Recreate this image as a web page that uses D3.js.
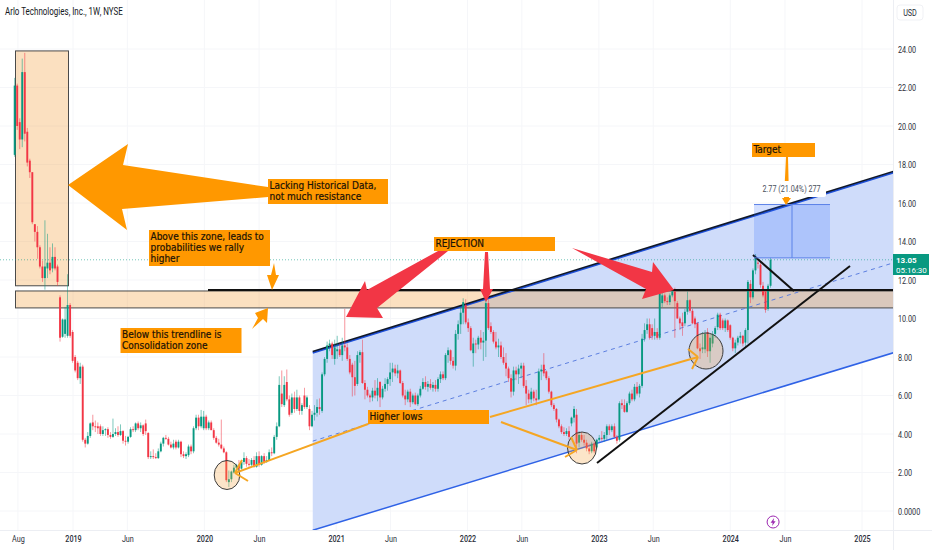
<!DOCTYPE html>
<html>
<head>
<meta charset="utf-8">
<script src="https://cdn.jsdelivr.net/npm/d3@7"></script>
<style>
  html, body { margin: 0; padding: 0; background: #fff; }
  svg { display: block; }
  .axis-text { font-family: "Roboto", sans-serif; font-size: 9.5px; fill: #2a2e39; }
  .tag-text { font-family: "Roboto", sans-serif; font-size: 8px; fill: #fff; }
  .note { font-family: "DejaVu Sans Condensed", "DejaVu Sans", sans-serif; font-size: 10px; fill: #1a1206; stroke: #1a1206; stroke-width: 0.2px; }
</style>
</head>
<body>
<svg id="chart" width="932" height="550"></svg>
<script>
/* weekly candles: open, high, low, close */
const candles2018 = [
  [18.5,22.5,18.4,22.1],[22.1,22.2,19.8,20.0],[20.2,20.4,18.8,19.3],[19.3,23.5,18.9,22.8],[22.8,23.8,19.2,19.6],
  [19.7,19.9,17.9,18.1],[18.2,18.3,17.3,17.6],[17.6,17.6,14.9,15.0],[14.9,14.9,14.0,14.5],[14.5,14.8,13.1,13.7],
  [13.7,13.8,12.6,12.7],[12.7,13.0,11.9,12.1],[12.1,15.1,11.5,12.7],[12.6,14.4,12.1,12.9],[12.9,13.7,12.3,12.5],
  [12.6,13.9,12.4,13.2],[13.2,13.7,12.5,12.6],[12.7,12.8,11.7,11.9],[11.1,11.2,8.8,9.0],[9.05,10.0,9.0,9.95],
  [9.2,10.6,9.0,9.95],[9.1,12.3,9.0,10.7],[10.7,10.8,9.0,9.1]
];
const candles2019 = [
  [9.3,9.4,7.7,7.8],[8.0,8.1,7.2,7.3],[7.7,7.8,6.8,6.9],[6.9,7.7,6.6,7.5],[7.5,7.6,3.6,3.7],
  [3.7,3.8,3.3,3.5],[3.5,4.1,3.45,3.9],[3.9,4.6,3.8,4.55],[4.6,5.0,4.2,4.4],[4.4,4.7,4.1,4.35],
  [4.4,4.6,4.0,4.3],[4.4,4.5,3.9,4.0],[4.0,4.4,3.9,4.2],[4.2,4.3,3.9,4.25],[4.25,4.35,3.8,3.95],
  [3.95,4.1,3.75,3.85],[3.85,4.8,3.8,4.0],[4.0,4.3,3.9,4.1],[4.1,4.4,3.85,3.95],[3.95,4.5,3.9,4.15],
  [4.15,4.2,3.5,3.65],[3.65,3.9,3.4,3.6],[3.6,3.9,3.5,3.85],[3.85,4.35,3.8,4.25],[4.25,4.4,4.1,4.2],
  [4.2,4.6,4.1,4.55],[4.55,4.65,4.2,4.3],[4.3,4.6,4.1,4.45],[4.45,4.5,3.9,4.0],[4.55,4.75,3.95,4.15],
  [4.05,4.1,2.7,2.8],[2.8,3.1,2.7,2.85],[2.85,3.2,2.7,2.8],[2.8,3.0,2.7,2.75],[2.75,3.25,2.7,3.1],
  [3.1,3.6,3.05,3.5],[3.5,3.85,3.35,3.8],[3.8,3.95,3.7,3.75],[3.75,3.85,3.4,3.45],[3.45,3.6,3.25,3.3],
  [3.3,3.7,3.2,3.5],[3.6,3.7,3.2,3.3],[3.3,3.7,3.25,3.6],[3.6,3.65,2.8,2.95],[2.95,3.1,2.75,2.85],
  [2.85,3.05,2.7,2.95],[2.9,3.45,2.8,3.35],[3.35,3.45,2.95,3.1],[3.1,4.4,3.0,4.3],[4.3,5.0,4.2,4.85],
  [4.85,5.0,4.2,4.4],[4.4,5.25,4.3,4.9]
];
const candles2020 = [
  [4.3,5.2,4.2,4.9],[4.9,5.0,4.2,4.3],[4.3,4.7,4.2,4.6],[4.6,4.7,4.2,4.2],[4.2,4.3,3.7,3.8],
  [3.8,3.9,3.5,3.55],[3.55,3.75,3.35,3.45],[3.45,4.75,3.2,3.25],[3.25,3.35,3.0,3.05],[3.05,3.1,1.5,1.6],
  [1.5,2.1,1.25,1.65],[1.65,2.1,1.5,2.05],[2.0,2.4,1.95,2.25],[2.25,2.45,2.1,2.4],[2.4,2.65,2.1,2.2],
  [2.2,2.65,2.15,2.55],[2.55,3.05,2.4,2.75],[2.75,2.85,2.3,2.45],[2.45,2.7,2.3,2.4],[2.4,2.75,2.3,2.65],
  [2.65,2.85,2.25,2.3],[2.3,3.05,2.25,2.85],[2.85,3.1,2.3,2.4],[2.4,2.9,2.35,2.85],[2.85,3.0,2.45,2.55],
  [2.55,2.85,2.5,2.65],[2.65,3.2,2.6,3.05],[3.05,3.3,2.85,3.0],[3.0,3.95,2.95,3.85],[3.85,4.6,3.7,4.4],
  [4.4,7.0,4.35,6.55],[6.1,7.3,5.4,5.55],[5.5,7.0,5.4,6.55],[6.7,7.35,5.7,5.8],[5.8,6.0,4.9,5.0],
  [5.1,6.1,5.0,5.9],[5.9,6.2,5.1,5.3],[5.3,6.3,5.2,5.9],[5.9,6.0,5.0,5.2],[5.2,5.6,5.0,5.5],
  [6.0,6.4,5.3,5.4],[5.4,6.0,5.3,5.9],[5.3,5.5,4.2,4.4],[4.4,5.2,4.35,5.0],[5.0,5.5,4.7,5.1],
  [5.1,5.8,4.9,5.4],[5.4,5.85,5.0,5.3],[5.2,7.2,5.1,7.1],[7.1,8.0,7.0,7.9],[7.9,8.8,7.7,8.6],
  [8.6,8.9,8.3,8.7],[8.7,8.8,7.9,8.1]
];
const candles2021 = [
  [7.9,8.9,7.6,8.5],[8.3,9.1,7.9,8.4],[8.4,8.7,8.0,8.1],[8.1,9.0,7.8,8.6],[8.6,10.5,8.3,8.5],
  [8.5,8.7,7.8,7.9],[7.9,8.1,7.1,7.2],[7.6,7.7,5.95,6.95],[6.95,7.8,6.0,6.5],[6.6,8.3,6.5,8.1],
  [8.1,8.35,7.7,8.25],[8.25,8.9,6.6,6.65],[6.65,6.8,5.8,6.3],[6.3,6.45,5.9,6.0],[6.0,6.1,5.65,5.9],
  [5.9,6.4,5.7,6.25],[6.25,6.8,5.85,6.0],[6.0,6.9,5.7,6.4],[6.7,6.75,5.4,5.9],[5.9,6.5,5.8,6.35],
  [6.35,6.9,6.2,6.6],[6.6,6.95,6.25,6.85],[6.85,7.7,6.5,7.2],[7.2,7.7,6.7,7.4],[7.4,7.6,7.0,7.15],
  [7.15,7.6,6.9,7.3],[7.3,7.35,6.6,6.65],[6.65,6.75,5.9,6.0],[6.0,6.3,5.5,5.8],[5.8,6.3,5.65,6.2],
  [6.2,6.35,5.4,5.65],[5.65,6.1,5.55,6.0],[6.0,6.15,5.5,5.55],[5.55,6.1,5.45,6.0],[6.0,6.5,5.9,6.35],
  [6.35,6.9,6.3,6.7],[6.7,7.0,6.3,6.45],[6.45,6.75,6.2,6.6],[6.6,6.85,6.3,6.4],[6.4,6.7,6.2,6.55],
  [6.55,6.8,6.2,6.35],[6.35,6.95,6.2,6.85],[6.85,7.25,6.65,7.1],[7.1,7.25,6.8,6.9],[6.9,8.2,6.8,8.1],
  [8.1,8.5,7.7,8.35],[8.35,8.4,7.6,7.8],[7.8,8.0,7.4,7.55],[7.55,9.4,7.3,9.2],[9.2,9.9,8.9,9.7],
  [9.7,10.6,9.2,10.3],[10.3,11.05,9.7,10.85]
];
const candles2022 = [
  [10.7,11.0,9.7,9.8],[9.8,10.0,9.3,9.5],[9.5,9.6,8.3,8.35],[8.2,9.0,7.5,8.7],[8.7,8.9,8.2,8.65],
  [8.65,9.1,8.4,9.0],[9.0,9.4,8.4,8.75],[8.75,9.3,7.8,8.85],[8.85,11.1,8.0,10.8],[10.8,11.0,9.4,9.5],
  [9.6,9.8,9.2,9.3],[9.3,9.4,8.7,8.8],[8.8,9.3,8.4,8.5],[8.5,8.95,8.0,8.6],[8.6,8.8,7.9,8.0],
  [8.0,8.5,7.6,7.7],[7.7,8.2,7.0,7.4],[7.4,7.5,6.7,6.9],[6.9,7.1,5.9,6.2],[6.2,7.5,6.0,7.3],
  [7.3,7.5,6.8,7.1],[7.1,7.6,6.6,7.4],[7.4,7.7,6.9,7.55],[7.55,7.7,6.4,6.5],[6.5,6.8,5.5,6.1],
  [6.1,6.3,5.6,5.8],[5.8,6.4,5.6,6.2],[6.2,6.3,5.7,5.85],[5.85,6.3,5.5,5.75],[5.8,7.4,5.75,7.25],
  [7.25,7.6,6.8,7.35],[7.6,8.2,7.0,7.15],[7.25,7.3,6.8,6.9],[6.9,7.0,6.1,6.2],[6.2,6.25,5.4,5.5],
  [5.5,5.6,5.2,5.3],[5.3,5.35,4.6,4.75],[4.75,4.8,4.3,4.4],[4.4,4.5,4.0,4.1],[4.1,4.35,3.9,4.0],
  [4.0,4.3,3.9,4.15],[4.15,4.4,3.7,3.85],[4.55,4.9,4.4,4.85],[4.85,5.45,4.6,5.3],[5.0,5.3,3.0,3.5],
  [3.55,4.15,3.3,3.95],[3.95,4.1,3.6,3.7],[3.7,3.95,3.4,3.55],[3.55,3.7,3.1,3.25],[3.25,3.5,2.95,3.1],
  [3.1,3.6,3.0,3.5],[3.5,3.6,3.0,3.1]
];
const candles2023 = [
  [3.3,3.75,3.2,3.7],[3.7,3.95,3.6,3.8],[3.8,4.15,3.65,3.75],[3.75,4.1,3.6,3.95],[3.95,4.5,3.7,4.4],
  [4.4,4.5,3.95,4.2],[4.2,4.5,4.1,4.4],[4.4,4.55,3.8,3.85],[3.85,3.95,3.5,3.65],[3.7,5.7,3.6,5.6],
  [5.6,5.8,5.3,5.5],[5.5,5.8,5.1,5.15],[5.15,5.7,5.1,5.6],[5.6,6.2,5.5,6.1],[6.1,6.3,5.7,5.8],
  [5.8,6.6,5.7,6.45],[6.45,6.7,6.0,6.1],[6.1,6.6,5.9,6.5],[6.5,9.2,6.4,8.95],[8.95,9.75,8.8,9.4],
  [9.4,10.0,9.2,9.7],[9.7,10.0,8.9,9.0],[9.5,9.7,8.9,9.1],[9.1,10.0,8.9,9.3],[9.3,9.5,8.9,9.0],
  [9.0,11.4,8.9,11.3],[10.8,11.5,10.6,11.2],[11.2,11.3,10.8,10.9],[10.9,11.1,10.7,10.85],[10.85,11.3,10.7,11.2],
  [11.2,11.5,11.1,11.4],[11.4,11.6,9.0,10.9],[10.8,10.9,10.0,10.0],[10.0,10.1,9.4,9.75],[9.8,10.3,9.1,9.6],
  [9.75,10.5,9.6,10.35],[10.35,11.4,10.2,10.95],[10.95,11.0,10.3,10.4],[10.4,10.5,9.7,9.75],[10.0,10.1,9.5,9.7],
  [9.75,9.8,8.4,8.45],[8.45,8.7,7.9,8.3],[8.4,9.3,8.2,8.5],[8.4,9.4,8.2,9.2],[9.3,9.5,8.0,8.3],
  [8.3,9.2,7.7,9.0],[8.7,9.35,8.5,9.2],[9.2,9.6,9.0,9.5],[9.55,10.3,9.4,10.2],[10.2,10.3,9.4,9.5],
  [9.9,10.0,9.4,9.5],[9.5,10.0,9.3,9.9]
];
const candles2024 = [
  [9.9,9.95,9.3,9.4],[9.65,9.7,8.9,9.0],[9.0,9.05,8.3,8.45],[8.45,8.9,8.2,8.75],[8.75,9.1,8.6,9.0],
  [9.0,9.3,8.7,9.1],[9.1,9.15,8.55,8.7],[8.75,9.5,8.5,9.4],[9.4,12.0,8.7,11.9],[11.8,12.0,10.8,11.1],
  [11.1,12.6,11.0,12.5],[12.5,13.35,12.3,13.2],[12.9,13.1,12.6,12.85],[12.8,12.95,11.6,11.75],[11.7,11.9,11.1,11.2],
  [11.4,11.5,10.3,10.45],[10.5,11.8,10.4,11.7],[11.7,13.15,11.6,13.05]
];
const firstWeek = "2018-07-23";
const priceTicks = [0, 2, 4, 6, 8, 10, 12, 14, 16, 18, 20, 22, 24];
const timeTicks = ["2018-08-01","2019-01-01","2019-06-01","2020-01-01","2020-06-01","2021-01-01","2021-06-01","2022-01-01","2022-06-01","2023-01-01","2023-06-01","2024-01-01","2024-06-01","2025-01-01"];
const lastPrice = 13.05;
const channelDates = ["2020-10-28", "2025-04-05"];
const channelUpper = [8.26, 17.66];
const channelMid = [3.63, 12.93];
const channelLower = [-1.0, 8.26];
const zonePrices = [10.55, 11.43];
const historyBoxPrices = [11.7, 23.9];
const targetPrices = [13.15, 15.92];

const parse = d3.utcParse("%Y-%m-%d");
const svg = d3.select("#chart");
const paneW = 893, paneH = 530;

const x = d3.scaleUtc().domain([parse("2019-01-01"), parse("2025-01-01")]).range([73, 862]);
const y = d3.scaleLinear().domain([0, 24]).range([511, 49]);

const candles = [...candles2018, ...candles2019, ...candles2020, ...candles2021, ...candles2022, ...candles2023, ...candles2024]
  .map((c, i) => ({ date: d3.utcWeek.offset(parse(firstWeek), i), open: c[0], high: c[1], low: c[2], close: c[3] }));

svg.append("defs").append("clipPath").attr("id", "pane")
  .append("rect").attr("width", paneW).attr("height", paneH);

/* grid */
const grid = svg.append("g");
timeTicks.forEach(t => {
  grid.append("line").attr("x1", x(parse(t))).attr("x2", x(parse(t))).attr("y1", 0).attr("y2", paneH)
    .attr("stroke", "#f5f6f9");
});
priceTicks.forEach(p => {
  grid.append("line").attr("x1", 0).attr("x2", paneW).attr("y1", y(p)).attr("y2", y(p))
    .attr("stroke", "#f5f6f9");
});

const plot = svg.append("g").attr("clip-path", "url(#pane)");

/* regression channel */
const cx = channelDates.map(d => x(parse(d)));
const channelPoly = [[cx[0], y(channelUpper[0])], [cx[1], y(channelUpper[1])], [cx[1], y(channelLower[1])], [cx[0], y(channelLower[0])]];
plot.append("polygon").attr("points", channelPoly.join(" ")).attr("fill", "#cfdcfa");

/* zones */
const zoneFill = "rgba(243,160,60,0.32)";
plot.append("rect").attr("x", 15.5).attr("width", paneW).attr("y", y(zonePrices[1])).attr("height", y(zonePrices[0]) - y(zonePrices[1]))
  .attr("fill", zoneFill).attr("stroke", "#4a4a4a").attr("stroke-width", 1);
plot.append("rect").attr("x", 15.5).attr("width", 53).attr("y", y(historyBoxPrices[1])).attr("height", y(historyBoxPrices[0]) - y(historyBoxPrices[1]))
  .attr("fill", zoneFill).attr("stroke", "#4a4a4a").attr("stroke-width", 1);

/* last price line */
plot.append("line").attr("x1", 0).attr("x2", paneW).attr("y1", y(lastPrice)).attr("y2", y(lastPrice))
  .attr("stroke", "#089981").attr("stroke-width", 0.8).attr("stroke-dasharray", "1 2").attr("opacity", 0.7);

/* channel lines */
plot.append("line").attr("x1", cx[0]).attr("x2", cx[1]).attr("y1", y(channelMid[0])).attr("y2", y(channelMid[1]))
  .attr("stroke", "#5c7fe0").attr("stroke-width", 1).attr("stroke-dasharray", "4 4");
plot.append("line").attr("x1", cx[0]).attr("x2", cx[1]).attr("y1", y(channelLower[0])).attr("y2", y(channelLower[1]))
  .attr("stroke", "#2f62e6").attr("stroke-width", 1.5);
plot.append("line").attr("x1", cx[0]).attr("x2", cx[1]).attr("y1", y(channelUpper[0]) + 0.8).attr("y2", y(channelUpper[1]) + 0.8)
  .attr("stroke", "#1d4fd8").attr("stroke-width", 2);
plot.append("line").attr("x1", cx[0]).attr("x2", cx[1]).attr("y1", y(channelUpper[0]) - 0.4).attr("y2", y(channelUpper[1]) - 0.4)
  .attr("stroke", "#101828").attr("stroke-width", 1.6);

/* candles */
const up = "#089981", down = "#f23645";
const candle = plot.selectAll("g.candle").data(candles).join("g").attr("class", "candle");
candle.append("line")
  .attr("x1", d => x(d.date)).attr("x2", d => x(d.date))
  .attr("y1", d => y(d.high)).attr("y2", d => y(d.low))
  .attr("stroke", d => d.close >= d.open ? up : down).attr("stroke-width", 0.7).attr("opacity", 0.75);
candle.append("rect")
  .attr("x", d => x(d.date) - 0.95).attr("width", 1.9)
  .attr("y", d => y(Math.max(d.open, d.close)))
  .attr("height", d => Math.max(0.6, Math.abs(y(d.open) - y(d.close))))
  .attr("fill", d => d.close >= d.open ? up : down);

/* hand drawings on top of the candles */
const draw = svg.append("g").attr("clip-path", "url(#pane)");
const orange = "#ff9800", red = "#f23645", lineOrange = "#f5a623";

function poly(points, fill) { draw.append("polygon").attr("points", points.join(" ")).attr("fill", fill); }
function seg(a, b, stroke, w) {
  draw.append("line").attr("x1", a[0]).attr("y1", a[1]).attr("x2", b[0]).attr("y2", b[1])
    .attr("stroke", stroke).attr("stroke-width", w);
}
function circle(cx0, cy0, rx, ry) {
  draw.append("ellipse").attr("cx", cx0).attr("cy", cy0).attr("rx", rx).attr("ry", ry)
    .attr("fill", "rgba(243,160,60,0.28)").attr("stroke", "#3d3d3d").attr("stroke-width", 1);
}
function note(x0, y0, w, h, lines) {
  draw.append("rect").attr("x", x0).attr("y", y0).attr("width", w).attr("height", h).attr("fill", orange);
  lines.forEach((t, i) => {
    draw.append("text").attr("class", "note").attr("x", x0 + 1.5).attr("y", y0 + 10 + i * 11).text(t);
  });
}

circle(227, 475, 12.8, 14.5);
circle(582, 448, 14.5, 16);
circle(706, 351, 17, 18);

/* black trendlines */
seg([208, 290], [893, 290], "#111", 2);
seg([597, 463], [850, 266], "#111", 2);
seg([753, 255], [794, 291], "#111", 2);

/* orange thin arrows */
seg([235, 473], [368, 424], lineOrange, 2);
seg([235, 473], [242, 460], lineOrange, 2);
seg([235, 473], [248, 481], lineOrange, 2);
seg([490, 417], [698, 357], lineOrange, 2);
seg([698, 357], [688, 349], lineOrange, 2);
seg([698, 357], [692, 369], lineOrange, 2);
seg([501, 422], [577, 450], lineOrange, 2);
seg([577, 450], [571, 437], lineOrange, 2);
seg([577, 450], [565, 457], lineOrange, 2);

/* big arrows */
poly([[68, 185], [128, 144], [123, 165], [268, 187], [268, 197], [122, 209], [127, 230]], orange);
poly([[274, 263], [276, 275], [279, 275], [272, 290], [267, 275], [271, 275]], orange);
poly([[252, 329], [258, 318], [255, 313], [268, 308], [267, 323], [263, 319]], orange);
poly([[448, 251], [438, 251], [367, 290], [365, 281], [346, 317], [383, 318], [377, 308]], red);
poly([[485, 252], [488, 252], [490, 289], [493, 289], [486, 302], [480, 289], [483, 289]], red);
poly([[572, 248], [652, 272], [653, 262], [674, 290], [642, 299], [646, 289]], red);

/* position box */
draw.append("rect").attr("x", 754).attr("width", 76).attr("y", y(targetPrices[1])).attr("height", y(targetPrices[0]) - y(targetPrices[1]))
  .attr("fill", "rgba(41,98,255,0.2)");
seg([754, y(targetPrices[1])], [830, y(targetPrices[1])], "#5b82e8", 1);
seg([754, y(targetPrices[0])], [830, y(targetPrices[0])], "#5b82e8", 1);
seg([792, y(targetPrices[1])], [792, y(targetPrices[0])], "#5b82e8", 1);
poly([[786, 157], [788, 157], [789, 198], [791, 198], [786, 205], [782, 198], [784, 198]], orange);
draw.append("rect").attr("x", 757).attr("y", 181).attr("width", 69).attr("height", 16).attr("rx", 2).attr("fill", "#fff");
draw.append("text").attr("class", "axis-text").attr("x", 791.5).attr("y", 191.5).attr("text-anchor", "middle")
  .style("fill", "#4a4f5c").text("2.77 (21.04%) 277");

/* labels */
note(268, 179, 120, 25, ["Lacking Historical Data,", "not much resistance"]);
note(149, 230, 121, 36, ["Above this zone, leads to", "probabilities we rally", "higher"]);
note(120.5, 328, 121, 25, ["Below this trendline is", "Consolidation zone"]);
note(434, 237, 121, 14, ["REJECTION"]);
note(368, 410, 121, 14, ["Higher lows"]);
note(752, 143, 63, 14, ["Target"]);

/* lightning event mark */
const bolt = svg.append("g").attr("transform", `translate(${x(parse("2024-04-29"))},522)`);
bolt.append("circle").attr("r", 6).attr("fill", "#fff").attr("stroke", "#9c27b0").attr("stroke-width", 1);
bolt.append("path").attr("d", "M1,-4 L-2.5,0.8 L-0.4,0.8 L-1,4 L2.5,-0.8 L0.4,-0.8 Z").attr("fill", "#9c27b0");

/* axes */
const yAxis = d3.axisRight(y).tickValues(priceTicks).tickSize(0).tickPadding(5)
  .tickFormat(d => d === 0 ? "0.0000" : d3.format(".2f")(d));
const gy = svg.append("g").attr("transform", `translate(${paneW},0)`).call(yAxis);
gy.select(".domain").remove();
gy.selectAll("text").attr("class", "axis-text");

const xAxis = d3.axisBottom(x).tickValues(timeTicks.map(parse)).tickSize(0).tickPadding(5)
  .tickFormat(d => d.getUTCMonth() === 0 ? d3.utcFormat("%Y")(d) : d3.utcFormat("%b")(d));
const gx = svg.append("g").attr("transform", `translate(0,${paneH})`).call(xAxis);
gx.select(".domain").remove();
gx.selectAll("text").attr("class", "axis-text")
  .style("font-weight", d => d.getUTCMonth() === 0 ? "500" : "normal");

svg.append("line").attr("x1", paneW + 0.5).attr("x2", paneW + 0.5).attr("y1", 0).attr("y2", 550).attr("stroke", "#eceef3");
svg.append("line").attr("x1", 0).attr("x2", 932).attr("y1", paneH + 0.5).attr("y2", paneH + 0.5).attr("stroke", "#eceef3");

/* last price tag */
svg.append("rect").attr("x", paneW).attr("y", 254).attr("width", 36).attr("height", 21).attr("fill", up);
svg.append("text").attr("class", "tag-text").attr("x", 896).attr("y", 263).style("font-weight", "bold").text(lastPrice.toFixed(2));
svg.append("text").attr("class", "tag-text").attr("x", 896).attr("y", 272.5).text("05:16:30");

/* header */
svg.append("text").attr("x", 5).attr("y", 15).attr("class", "axis-text").style("font-size", "10.5px").style("fill", "#131722")
  .text("Arlo Technologies, Inc., 1W, NYSE");
svg.append("rect").attr("x", 897).attr("y", 5).attr("width", 26).attr("height", 15).attr("rx", 3).attr("fill", "#fff").attr("stroke", "#f0f1f5");
svg.append("text").attr("class", "axis-text").attr("x", 910).attr("y", 15.5).attr("text-anchor", "middle").text("USD");

/* the reference type is narrower than any installed face, so squeeze it */
svg.selectAll(".axis-text").each(function () {
  const len = this.getComputedTextLength();
  d3.select(this).attr("textLength", len * 0.76).attr("lengthAdjust", "spacingAndGlyphs");
});
</script>
</body>
</html>
